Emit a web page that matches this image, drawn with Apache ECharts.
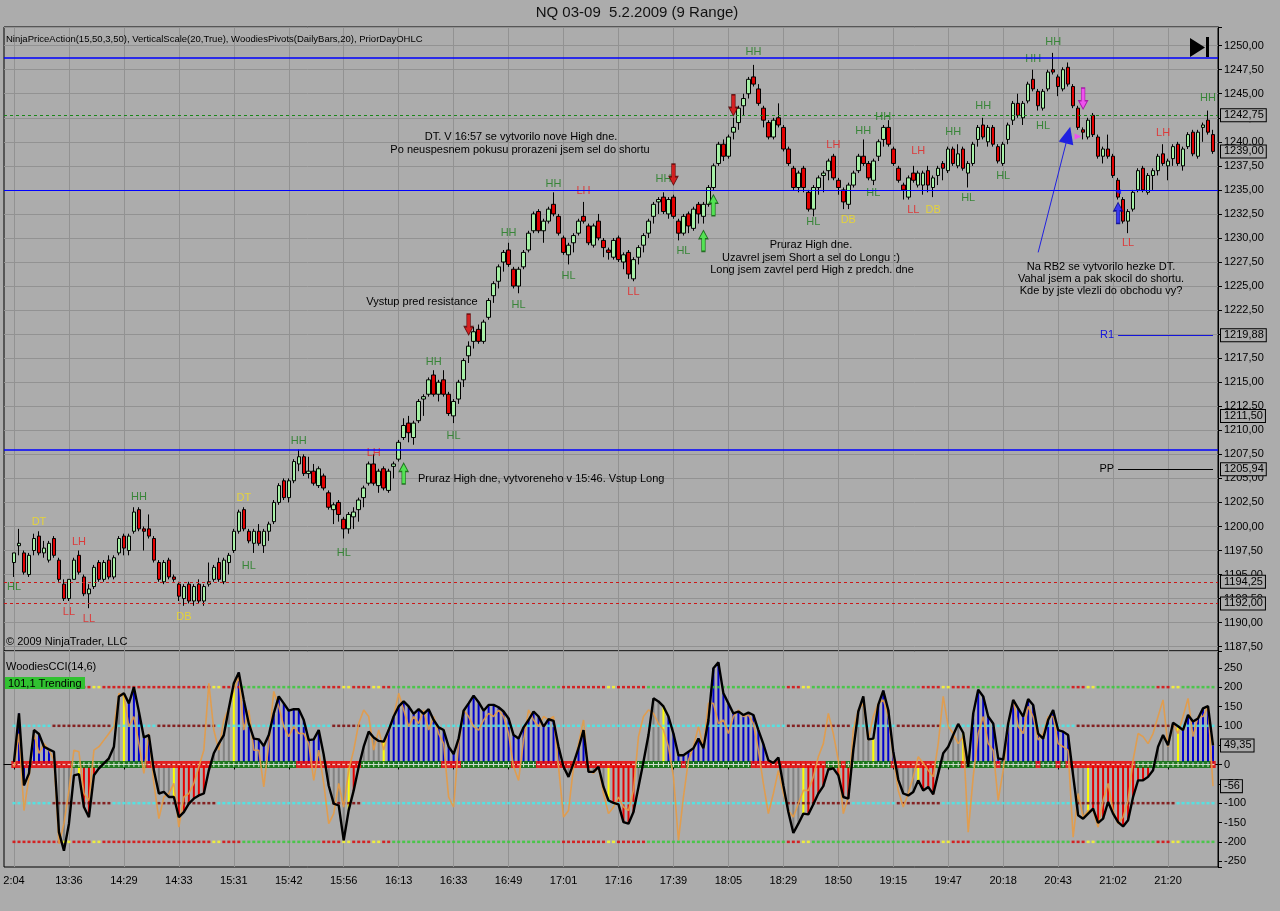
<!DOCTYPE html>
<html><head><meta charset="utf-8">
<script src="https://cdn.jsdelivr.net/npm/echarts@6/dist/echarts.min.js"></script>
<style>html,body{margin:0;padding:0;background:#acacac;}#c{width:1280px;height:911px;}</style>
</head><body><div id="c"></div>
<script>
// ---------- DATA ----------
const tickLabels = ['2:04','13:36','14:29','14:33','15:31','15:42','15:56','16:13','16:33','16:49','17:01','17:16','17:39','18:05','18:29','18:50','19:15','19:47','20:18','20:43','21:02','21:20'];

const opens = [1196.25,1198,1197.25,1195,1197.5,1199,1197.25,1196.5,1198.75,1196.5,
1194,1192.5,1194.5,1197,1194.75,1193,1193.75,1196.25,1194.5,1196.5,
1194.75,1197.25,1199,1197.5,1199.5,1201.75,1199.75,1199.75,1198.75,1196.25,
1194.25,1196.5,1194.75,1194,1192.5,1194,1192.25,1194,1192.25,1194,
1194.5,1196.25,1194.25,1196.25,1197.5,1199.5,1201.75,1199.5,1198.25,1199.5,
1198,1199.5,1200.5,1202.5,1204.75,1203,1204.75,1206.5,1207.25,1205.5,
1205.75,1204.25,1205.25,1203.5,1201.75,1202.5,1200.75,1199.75,1201,1201.75,
1203,1204.5,1206.5,1204.25,1206,1203.75,1206.25,1207,1209.25,1210.75,
1209.25,1211,1213.25,1213.75,1215.75,1213.75,1215.25,1213.75,1211.5,1213.25,
1215.25,1217.75,1219.25,1220.5,1219.25,1221.75,1224,1225.5,1227.5,1228.75,
1226.75,1225,1227,1228.75,1230.75,1232.75,1230.75,1231.75,1233.5,1232.25,
1230,1228.25,1229.5,1230.5,1232.25,1231.25,1229.25,1231.75,1229.75,1228.75,
1228,1230,1227.5,1228.5,1225.75,1228,1229.25,1230.5,1232.25,1233.75,
1234.25,1232.5,1234.25,1231.75,1230.5,1232.5,1231,1233.5,1232.25,1233.5,
1235.25,1237.75,1239.75,1238.5,1241,1242,1243.75,1245,1246.75,1245.5,
1243.5,1242,1240.5,1242.5,1241.5,1239.25,1237.25,1235.25,1237.25,1234.75,
1233,1235.25,1236.5,1237,1238.5,1236,1235,1233.5,1235.5,1237,
1238.5,1237.75,1236,1238.5,1240.25,1241.5,1239.25,1237.25,1235.5,1234.25,
1236.75,1235.5,1235.5,1237,1235.25,1236.5,1237.75,1237,1239.25,1237.5,
1239.25,1236.75,1237.75,1240.25,1241.75,1240,1241.5,1239.5,1237.75,1240.25,
1242.25,1244,1242.5,1244.25,1246.5,1245.25,1243.5,1245.5,1247.5,1246.75,
1245.5,1247.75,1245.75,1243.5,1241.25,1240.5,1242.75,1240.5,1238.5,1239.25,
1238.5,1236,1234,1231.75,1233,1235,1237.25,1234.75,1236.5,1237,
1238.75,1237.5,1238.25,1239.75,1237.5,1239.5,1241,1238.5,1241.5,1242.25,
1240.75];

const closes = [1197.25,1198.25,1195.25,1197,1198.75,1197.25,1197.75,1198.25,1197,1194.5,
1192.5,1194.5,1196.5,1195.25,1193,1193.5,1195.75,1194.5,1196.25,1194.75,
1196.75,1198.75,1197.75,1199,1201.5,1199.75,1199.5,1199,1196.5,1194.5,
1196.25,1194.75,1194.5,1192.75,1193.75,1192.25,1193.75,1192.25,1193.75,1194.25,
1195.75,1194.5,1196.5,1197,1199.5,1201.5,1199.75,1198.5,1199.5,1198.25,
1199.5,1200.25,1202.5,1204.25,1203,1204.75,1206.75,1207.25,1205.5,1205.75,
1204.5,1206,1204,1202,1202.25,1201.25,1199.75,1201.25,1201.5,1202.75,
1204,1206.5,1204.5,1205.75,1204,1205.75,1206.5,1208.75,1210.5,1209.75,
1210.75,1213,1213.5,1215.25,1213.75,1215,1213.75,1211.75,1213,1215,
1217.25,1218.75,1220.25,1219.25,1221.25,1223.5,1225.25,1227,1228.5,1227.25,
1225,1226.75,1228.5,1230.5,1232.5,1230.75,1231.75,1233,1232.5,1230.5,
1228.5,1229.25,1230.25,1231.75,1231.75,1229.5,1231.25,1230,1229,1228.5,
1229.75,1227.75,1228.25,1226.25,1227.75,1229,1230.25,1231.75,1233.5,1234,
1232.75,1234,1232.25,1230.5,1232.25,1231.25,1233,1232.5,1233.5,1235.25,
1237.5,1239.75,1238.5,1240.5,1241.5,1243.5,1244.5,1246.5,1246,1244,
1242.25,1240.5,1242.25,1241.75,1239.25,1237.75,1235.25,1236.75,1235.25,1233,
1235.25,1236.25,1236.75,1238,1236.25,1235.25,1233.75,1235.5,1236.75,1238.5,
1237.75,1236.25,1238,1240,1241.5,1239.75,1237.75,1236,1235,1236.25,
1236,1236.75,1236.75,1235.5,1236.25,1237.25,1237.25,1239.25,1237.75,1238.75,
1237.25,1237.75,1239.75,1241.5,1240.5,1241.5,1239.75,1238,1239.75,1241.75,
1244,1242.75,1244,1246,1245.5,1243.75,1245.25,1247.25,1247.25,1245.75,
1247.5,1246,1243.75,1241.5,1241,1242.25,1240.75,1238.5,1239.25,1238.5,
1236.5,1234.25,1231.75,1232.75,1234.75,1237,1235,1236.5,1237,1238.5,
1237.75,1238,1239.5,1237.75,1239.25,1240.75,1238.75,1241,1241.75,1241,
1239];

const highs = [1197.25,1199.75,1197.5,1197.25,1199.25,1199.5,1198.5,1198.5,1199,1196.75,
1194.5,1194.5,1196.75,1197.5,1195,1194,1196,1196.5,1196.5,1197,
1197,1199,1199.25,1199.25,1202,1202,1200,1201.25,1199,1196.5,
1196.5,1196.75,1195,1194.25,1194,1194.25,1194,1194.5,1194,1196.25,
1196,1196.75,1196.75,1197.25,1199.75,1201.75,1202,1199.75,1199.75,1200.25,
1199.75,1200.5,1202.75,1204.5,1205,1205,1207,1208,1207.5,1207.25,
1206.5,1206.25,1205.5,1203.75,1202.5,1202.75,1201,1201.5,1202,1203,
1204.25,1206.75,1207.5,1206,1206.25,1206,1206.75,1209,1211.25,1211.5,
1211,1213.25,1213.75,1215.5,1216.25,1215.25,1216.25,1214,1213.25,1215.25,
1217.5,1219.25,1220.75,1221,1221.5,1223.75,1225.5,1227.25,1228.75,1229.5,
1227,1227,1228.75,1230.75,1232.75,1233,1232,1233.25,1234.75,1232.5,
1230.25,1229.5,1230.5,1232,1233.75,1231.5,1231.5,1232.5,1230,1229,
1230,1230.25,1228.5,1228.75,1228,1229.25,1230.5,1232,1233.75,1234.25,
1234.75,1234.25,1234.5,1232,1232.5,1232.75,1233.25,1233.75,1233.75,1235.5,
1237.75,1240,1240.25,1240.75,1242.5,1243.75,1245,1246.75,1248,1246,
1243.75,1242.25,1242.5,1244,1241.75,1239.5,1237.5,1237,1237.5,1235,
1235.5,1236.5,1237,1238.25,1238.75,1236.25,1235.25,1235.75,1237,1238.75,
1240.25,1238,1238.25,1240.25,1241.75,1242.25,1239.5,1237.5,1235.75,1236.5,
1237.5,1237,1237,1237.5,1236.5,1237.5,1238,1239.5,1239.5,1239.75,
1239.5,1238,1240,1241.75,1242.5,1241.75,1241.75,1239.75,1240,1242,
1244.25,1245,1244.25,1246.25,1247.5,1245.5,1245.5,1247.5,1249.25,1247,
1247.75,1248.25,1246,1243.75,1241.5,1242.5,1243,1240.75,1239.5,1240.75,
1238.75,1236.25,1234.25,1233,1235,1237.25,1237.5,1236.75,1237.25,1238.75,
1239.75,1238.25,1239.75,1240,1239.5,1241,1241.25,1241.25,1242,1243.25,
1241.25];

const lows = [1194.75,1197,1195,1194.75,1197,1197,1196.75,1196.25,1196.75,1194.25,
1192.25,1192.25,1194.5,1195,1192.75,1191.5,1193.5,1194.25,1194.25,1194.5,
1194.5,1197,1197,1197,1199.25,1199.5,1197.5,1198.75,1196.25,1194.25,
1194,1194.5,1194.25,1192.25,1191.75,1192,1191.75,1192,1191.75,1193.75,
1194.25,1194.25,1194,1195,1197.25,1199.25,1199.5,1198.25,1197.25,1198,
1197.25,1198.5,1200.25,1202.25,1202.75,1202.5,1204.5,1205.75,1205.25,1205,
1204.25,1204,1203.75,1201.75,1200.25,1200.5,1198.75,1199.25,1199.75,1200.5,
1202,1204.25,1204.25,1203.5,1203.75,1203.5,1205,1206.75,1209,1208.75,
1208.5,1210.75,1211.5,1213.5,1213.5,1213,1213.5,1211.5,1210.75,1212.75,
1214.5,1217,1218.5,1219,1219,1221.5,1223.25,1224.75,1226.5,1227,
1224.75,1224.25,1226.75,1228.5,1230.5,1230.5,1229.5,1231.5,1232.25,1230.25,
1228.25,1227.25,1228.5,1230.25,1231.5,1229.25,1229,1229.75,1228,1227.75,
1227.75,1227.5,1226.75,1225.75,1225.5,1227.25,1228.5,1230,1231.5,1232.5,
1232.5,1232,1232,1229.75,1230.25,1230.5,1230.75,1231.5,1231.5,1233.25,
1235,1237.5,1238,1238.25,1240.25,1241.25,1242.75,1244.5,1245.75,1243.75,
1241.5,1240.25,1240.25,1241.5,1239,1237.5,1235,1234.75,1234.75,1232.75,
1232.25,1234.5,1234.75,1236,1236,1234.5,1233,1233,1235.25,1236.75,
1237.5,1236,1235.5,1238,1239.5,1239.5,1237.5,1235.75,1234,1234,
1235.75,1235.25,1234.5,1234.75,1234.25,1235.5,1236,1236.75,1237.5,1237.25,
1237,1235.25,1237.5,1239.5,1240.25,1239.5,1239.5,1237.75,1237.5,1239.75,
1241.75,1242.5,1241.75,1244,1245.25,1243.25,1243.25,1245.25,1247,1244.75,
1245.25,1245.75,1243.5,1241.25,1240.25,1240.25,1240.5,1238.25,1237.75,1238.25,
1236.25,1234,1231.5,1230.5,1232.75,1234.75,1234.75,1234.5,1235,1236.5,
1237.5,1236,1237.5,1237.5,1237,1239.25,1238.5,1238.25,1240,1240.75,
1238.75];

const cciValues = [7,132,-54,-23,89,79,46,39,33,-175,
-223,-153,-28,-25,-110,-136,-28,-10,3,16,
46,176,184,158,200,137,70,76,-15,-75,
-71,-84,-84,-136,-123,-101,-88,-80,-75,-15,
29,54,76,145,210,238,167,106,67,65,
48,76,132,176,158,139,143,143,115,63,
65,89,25,-55,-101,-106,-196,-118,-67,-6,
46,85,70,61,59,89,124,150,163,150,
131,143,131,143,115,96,89,46,27,67,
139,158,178,161,139,154,154,148,137,119,
76,67,96,115,137,124,98,117,113,46,
-6,-32,3,42,89,-19,-19,-6,-58,-93,
-99,-103,-149,-153,-123,-58,7,76,171,163,
150,124,80,24,24,33,42,67,42,115,
249,264,184,158,132,137,128,134,128,89,
53,11,4,18,-54,-123,-177,-153,-127,-129,
-103,-75,-56,-13,-10,-28,-84,-88,37,137,
176,65,67,154,191,141,33,-39,-75,-80,
-71,-41,-67,-58,-77,-23,29,46,76,105,
82,-6,132,193,176,124,106,16,13,106,
167,145,124,169,154,80,67,115,141,89,
85,76,-28,-131,-140,-127,-114,-151,-140,-97,
-127,-149,-160,-144,-84,-41,-41,-32,-15,46,
76,50,108,99,89,128,111,119,145,151,
49.35];

const turboValues = [-6,80,-119,-32,80,29,54,37,11,-205,
-153,-67,37,33,-75,-93,37,46,63,80,
98,184,176,98,124,54,-23,80,-49,-140,
-84,-75,-49,-162,-84,-75,-49,-6,37,210,
89,37,115,145,193,227,89,141,37,37,
-58,54,189,150,98,72,98,80,80,54,
-41,37,-49,-153,-127,-49,-110,-15,37,106,
141,124,37,89,37,89,124,184,141,98,
124,106,141,89,124,80,54,-84,-110,54,
141,124,98,89,115,132,124,141,124,80,
-6,-41,63,141,115,98,124,115,124,-6,
-136,-119,-6,54,115,-15,-23,-6,-75,-127,
-110,-84,-110,-119,-67,72,124,141,132,106,
89,46,-32,-196,-84,11,46,98,46,158,
158,106,115,80,124,141,124,128,106,37,
-49,-127,-75,-15,-75,-119,-136,-101,-67,-67,
-32,20,54,132,80,11,-127,-84,89,141,
158,63,124,158,167,124,20,-67,-110,-75,
-32,20,3,-15,-32,54,176,98,80,54,
72,-175,-32,80,124,54,37,-93,-15,98,
167,98,80,150,124,63,80,124,124,54,
46,37,-188,-75,-136,-119,-119,-162,-93,-49,
-119,-153,-136,-93,11,80,72,54,80,124,
167,46,106,80,124,171,72,124,124,150,
-56];

// histogram state runs [fromBar, state]: b=trend up, r=trend down, g=neutral, y=trigger
const histRuns = [[0,'b'],[9,'g'],[13,'y'],[14,'r'],[18,'g'],[22,'y'],[23,'b'],[28,'g'],[32,'y'],[33,'r'],[39,'g'],[44,'y'],[45,'b'],[62,'g'],[67,'y'],[68,'r'],[70,'g'],[74,'y'],[75,'b'],[110,'g'],[112,'b'],[115,'g'],[119,'y'],[120,'r'],[125,'g'],[130,'y'],[131,'b'],[151,'g'],[158,'y'],[159,'r'],[168,'g'],[172,'y'],[173,'b'],[177,'g'],[181,'y'],[182,'r'],[185,'g'],[190,'y'],[191,'g'],[192,'b'],[212,'g'],[215,'y'],[216,'r'],[228,'g'],[233,'y'],[234,'b']];
// zero line state runs: r = choppy, g = trending
const bandRuns = [[0,'r'],[12,'g'],[27,'r'],[40,'g'],[57,'r'],[70,'g'],[86,'r'],[90,'g'],[100,'r'],[102,'g'],[105,'r'],[125,'g'],[134,'r'],[135,'g'],[148,'r'],[163,'g'],[166,'r'],[167,'g'],[176,'r'],[185,'g'],[190,'r'],[191,'g'],[197,'r'],[198,'g'],[205,'r'],[206,'g'],[209,'r'],[210,'g'],[211,'r'],[225,'g'],[240,'r']];
const level100Runs = [[0,'c'],[8,'b'],[20,'c'],[29,'b'],[41,'c'],[64,'b'],[70,'c'],[155,'b'],[168,'c'],[177,'b'],[186,'c'],[213,'b'],[233,'c']];
const level200Runs = [[0,'r'],[10,'y'],[12,'r'],[16,'y'],[18,'r'],[40,'y'],[42,'r'],[46,'g'],[62,'r'],[66,'y'],[68,'r'],[72,'y'],[74,'r'],[76,'g'],[110,'r'],[119,'y'],[121,'r'],[127,'g'],[155,'r'],[158,'y'],[160,'g'],[182,'r'],[186,'y'],[188,'r'],[192,'g'],[212,'r'],[215,'y'],[217,'g'],[229,'r'],[232,'y'],[234,'g']];

// swing labels [bar, text, price]
const swingLabels = [[0,'HL',1193.7],[5,'DT',1200.5],[13,'LH',1198.4],[25,'HH',1203.1],[11,'LL',1191.1],[15,'LL',1190.4],[34,'DB',1190.6],[46,'DT',1203.0],[47,'HL',1195.9],[57,'HH',1208.9],[66,'HL',1197.2],[72,'LH',1207.6],[84,'HH',1217.1],[88,'HL',1209.4],[99,'HH',1230.5],[101,'HL',1223.0],[108,'HH',1235.6],[114,'LH',1234.9],[111,'HL',1226.0],[124,'LL',1224.4],[130,'HH',1236.1],[134,'HL',1228.6],[148,'HH',1249.3],[160,'HL',1231.7],[164,'LH',1239.7],[167,'DB',1231.9],[170,'HH',1241.1],[172,'HL',1234.7],[174,'HH',1242.6],[181,'LH',1239.1],[180,'LL',1232.9],[184,'DB',1232.9],[188,'HH',1241.0],[191,'HL',1234.2],[194,'HH',1243.7],[198,'HL',1236.5],[204,'HH',1248.6],[208,'HH',1250.4],[206,'HL',1241.7],[230,'LH',1240.9],[223,'LL',1229.5],[239,'HH',1244.6]];
// trade arrows [bar, price, direction, kind]
const arrows = [[78,1205.5,'up','g'],[91,1221.0,'down','r'],[132,1236.6,'down','r'],[138,1229.7,'up','g'],[140,1233.4,'up','g'],[144,1243.8,'down','r'],[214,1244.5,'down','m'],[221,1232.6,'up','b']];
const levels = {r2: 1248.75, prevHigh: 1235.0, prevLow: 1208.0, open: 1242.75, last: 1239.0, r1: 1219.88, mid: 1211.5, pp: 1205.94, s1: 1194.25, s2: 1192.0};
const cciMarkers = {cci: 49.35, turbo: -56};

// ---------- BUILD ----------
const FF = '"Liberation Sans", Arial, sans-serif';
const PAD = 2;
const N = closes.length;
const NC = N + PAD + 1;
const cats = Array.from({length: NC}, (_, j) => String(j));
const isTick = j => j >= PAD && (j - PAD) % 11 === 0 && (j - PAD) / 11 < tickLabels.length;
function expand(runs) {
  const out = []; let k = 0;
  for (let i = 0; i < N; i++) { while (k + 1 < runs.length && runs[k + 1][0] <= i) k++; out.push(runs[k][1]); }
  return out;
}
const hist = expand(histRuns), band = expand(bandRuns), l100 = expand(level100Runs), l200 = expand(level200Runs);
const HC = {b:'#0000d0', r:'#e60000', g:'#828282', y:'#ffff00'};
const BC = {r:'#ee0000', g:'#006e00'};
const C100 = {c:'#3ff0f0', b:'#7a0000'};
const C200 = {g:'#33cc33', r:'#dd0000', y:'#ffff20'};
const LBLC = {HH:'#1c7c1c', HL:'#1c7c1c', LH:'#e62020', LL:'#e62020', DT:'#f2dc1e', DB:'#f2dc1e'};
const ARC = {g:['#3ef03e','#0a5a0a'], r:['#e00000','#500000'], m:['#ff3cff','#a000a0'], b:['#1e1eff','#00008a']};
const PLUS = 'path://M2,0H3V2H5V3H3V5H2V3H0V2H2Z';
const ARROW = 'path://M5,0L10,8L7,8L7,20L3,20L3,8L0,8Z';

const byBar = f => cats.map((_, j) => { const i = j - PAD; return (i >= 0 && i < N) ? f(i) : '-'; });
const candleData = byBar(i => [opens[i], closes[i], lows[i], highs[i]]);
const histData = byBar(i => ({value: cciValues[i], itemStyle: {color: HC[hist[i]]}}));
const cciData = byBar(i => cciValues[i]);
const turboData = byBar(i => turboValues[i]);
const bandData = [], bandMarks = [], dotData = [];
for (let i = 0; i < N; i++) {
  const j = i + PAD;
  bandData.push({value: [j, 0], itemStyle: {color: BC[band[i]]}});
  bandMarks.push(band[i] === 'g' ? {value: [j, 0], symbol: PLUS, symbolSize: [5, 5]} : {value: [j, 0], symbol: 'rect', symbolSize: [3, 1.3]});
  [100, -100].forEach(v => dotData.push({value: [j, v], itemStyle: {color: C100[l100[i]]}}));
  [200, -200].forEach(v => dotData.push({value: [j, v], itemStyle: {color: C200[l200[i]]}}));
}
const labelData = swingLabels.map(([b, t, p]) => ({value: [b + PAD, p], name: t, label: {color: LBLC[t]}}));
const arrowData = arrows.map(([b, p, d, k]) => ({value: [b + PAD, p], symbolRotate: d === 'down' ? 180 : 0, itemStyle: {color: ARC[k][0], borderColor: ARC[k][1]}}));
const tinyTri = [
  {value: [213 + PAD, 1240.55], symbol: 'triangle', symbolRotate: -90, symbolSize: [6, 7], itemStyle: {color: '#ff3cff'}},
  {value: [221 + PAD, 1234.8], symbol: 'triangle', symbolRotate: 90, symbolSize: [5, 6], itemStyle: {color: '#1e1eff'}}
];

const fmt2 = v => v.toFixed(2).replace('.', ',');
const boxLabel = txt => ({show: true, position: 'end', formatter: txt, color: '#000', fontSize: 11, fontFamily: FF,
  backgroundColor: '#acacac', borderColor: '#000', borderWidth: 1, padding: [1, 2, 0, 3], distance: 3});
const hidden = {color: 'rgba(0,0,0,0)', width: 1};
const solid = (c, w) => ({color: c, type: 'solid', width: w || 1});

const priceLines = [
  {yAxis: levels.r2, lineStyle: solid('#0000ff', 1.5), label: {show: false}},
  {yAxis: levels.prevHigh, lineStyle: solid('#0000ff', 1.2), label: {show: false}},
  {yAxis: levels.prevLow, lineStyle: solid('#0000ff', 1.5), label: {show: false}},
  {yAxis: levels.open, lineStyle: {color: '#1a861a', type: [3, 3], width: 1.2}, label: boxLabel(fmt2(levels.open))},
  {yAxis: levels.s1, lineStyle: {color: '#cc1818', type: [3, 3], width: 1}, label: boxLabel(fmt2(levels.s1))},
  {yAxis: levels.s2, lineStyle: {color: '#cc1818', type: [3, 3], width: 1}, label: boxLabel(fmt2(levels.s2))},
  {yAxis: levels.last, lineStyle: hidden, label: boxLabel(fmt2(levels.last))},
  {yAxis: levels.mid, lineStyle: hidden, label: boxLabel(fmt2(levels.mid))},
  {yAxis: levels.r1, lineStyle: hidden, label: boxLabel(fmt2(levels.r1))},
  {yAxis: levels.pp, lineStyle: hidden, label: boxLabel(fmt2(levels.pp))},
  [{coord: [String(221 + PAD), levels.r1], lineStyle: solid('#1414dc'), label: {show: true, position: 'start', formatter: 'R1', color: '#1414dc', fontSize: 11, fontFamily: FF, distance: 4}}, {coord: [String(240 + PAD), levels.r1]}],
  [{coord: [String(221 + PAD), levels.pp], lineStyle: solid('#000'), label: {show: true, position: 'start', formatter: 'PP', color: '#000', fontSize: 11, fontFamily: FF, distance: 4}}, {coord: [String(240 + PAD), levels.pp]}],
  [{coord: [String(205 + PAD), 1228.5], symbol: 'none', lineStyle: solid('#2020e0'), label: {show: false}}, {coord: [String(211 + PAD), 1240.7], symbol: 'triangle', symbolSize: [15, 17]}]
];

const notes = [
  ['DT. V 16:57 se vytvorilo nove High dne.', 521, 137, 'center', 11],
  ['Po neuspesnem pokusu prorazeni jsem sel do shortu', 520, 150, 'center', 11],
  ['Vystup pred resistance', 422, 302, 'center', 11],
  ['Pruraz High dne, vytvoreneho v 15:46. Vstup Long', 418, 479, 'left', 11],
  ['Pruraz High dne.', 811, 245, 'center', 11],
  ['Uzavrel jsem Short a sel do Longu :)', 811, 258, 'center', 11],
  ['Long jsem zavrel perd High z predch. dne', 812, 270, 'center', 11],
  ['Na RB2 se vytvorilo hezke DT.', 1101, 267, 'center', 11],
  ['Vahal jsem a pak skocil do shortu.', 1101, 279, 'center', 11],
  ['Kde by jste vlezli do obchodu vy?', 1101, 291, 'center', 11],
  ['NinjaPriceAction(15,50,3,50), VerticalScale(20,True), WoodiesPivots(DailyBars,20), PriorDayOHLC', 6, 39, 'left', 9.5],
  ['\u00a9 2009 NinjaTrader, LLC', 6, 642, 'left', 11],
  ['WoodiesCCI(14,6)', 6, 667, 'left', 11]
];
const graphic = notes.map(([t, x, y, a, s]) => ({type: 'text', x, y, z: 50, silent: true,
  style: {text: t, fill: '#000', font: s + 'px ' + FF, align: a, verticalAlign: 'middle'}}));
graphic.push({type: 'text', x: 637, y: 13, z: 50, style: {text: 'NQ 03-09  5.2.2009 (9 Range)', fill: '#111', font: '15px ' + FF, align: 'center', verticalAlign: 'middle'}});
graphic.push({type: 'rect', z: 49, shape: {x: 5, y: 677, width: 80, height: 12}, style: {fill: '#31c231'}});
graphic.push({type: 'text', x: 8, y: 683.5, z: 50, style: {text: '101,1 Trending', fill: '#000', font: '11px ' + FF, align: 'left', verticalAlign: 'middle'}});
graphic.push({type: 'polygon', z: 50, shape: {points: [[1190, 38], [1190, 57], [1205, 47.5]]}, style: {fill: '#000'}});
graphic.push({type: 'rect', z: 50, shape: {x: 1206, y: 37, width: 3, height: 20}, style: {fill: '#000'}});

const splitV = {show: true, interval: j => isTick(j), lineStyle: {color: '#929292', width: 1}};
const chart = echarts.init(document.getElementById('c'), null, {renderer: 'canvas'});
chart.setOption({
  animation: false,
  backgroundColor: '#acacac',
  textStyle: {fontFamily: FF},
  grid: [
    {left: 4, right: 62, top: 27, height: 624, show: true, borderColor: '#000', borderWidth: 1, backgroundColor: 'transparent', outerBoundsMode: 'none'},
    {left: 4, right: 62, top: 651, height: 216, show: true, borderColor: '#000', borderWidth: 1, backgroundColor: 'transparent', outerBoundsMode: 'none'}
  ],
  xAxis: [
    {gridIndex: 0, type: 'category', data: cats, boundaryGap: false, axisLine: {show: false}, axisTick: {show: false}, axisLabel: {show: false}, splitLine: splitV},
    {gridIndex: 1, type: 'category', data: cats, boundaryGap: false,
      axisLine: {show: true, lineStyle: {color: '#000'}},
      axisTick: {show: true, interval: j => isTick(j), length: 5, lineStyle: {color: '#000'}},
      axisLabel: {show: true, interval: j => isTick(j), formatter: (v) => tickLabels[(+v - PAD) / 11] || '', color: '#000', fontSize: 11, fontFamily: FF, margin: 8},
      splitLine: splitV}
  ],
  yAxis: [
    {gridIndex: 0, type: 'value', position: 'right', min: 1187.05, max: 1251.94, minInterval: 2.5, maxInterval: 2.5, splitNumber: 26,
      axisLine: {show: true, lineStyle: {color: '#000'}}, axisTick: {show: true, length: 4, lineStyle: {color: '#000'}},
      axisLabel: {color: '#000', fontSize: 11, fontFamily: FF, margin: 6, formatter: v => Math.abs(v / 2.5 - Math.round(v / 2.5)) < 1e-6 ? fmt2(v) : ''},
      splitLine: {show: true, lineStyle: {color: '#929292', width: 1}}},
    {gridIndex: 1, type: 'value', position: 'right', min: -265, max: 293.4, minInterval: 50, maxInterval: 50, splitNumber: 11,
      axisLine: {show: true, lineStyle: {color: '#000'}}, axisTick: {show: true, length: 4, lineStyle: {color: '#000'}},
      axisLabel: {color: '#000', fontSize: 11, fontFamily: FF, margin: 6, formatter: v => Math.abs(v / 50 - Math.round(v / 50)) < 1e-6 ? String(Math.round(v)) : ''},
      splitLine: {show: false}}
  ],
  series: [
    {type: 'candlestick', xAxisIndex: 0, yAxisIndex: 0, data: candleData, barWidth: 4, z: 3,
      itemStyle: {color: '#a6f0a6', color0: '#e20000', borderColor: '#000', borderColor0: '#000', borderWidth: 1},
      markLine: {silent: true, symbol: ['none', 'none'], animation: false, z: 20, data: priceLines}},
    {type: 'scatter', xAxisIndex: 0, yAxisIndex: 0, data: labelData, symbolSize: 1, itemStyle: {color: 'rgba(0,0,0,0)'}, z: 6, silent: true,
      label: {show: true, position: 'inside', formatter: '{b}', fontSize: 11, fontFamily: FF}},
    {type: 'scatter', xAxisIndex: 0, yAxisIndex: 0, data: arrowData, symbol: ARROW, symbolSize: [9, 21], z: 7, silent: true,
      itemStyle: {borderWidth: 1}},
    {type: 'scatter', xAxisIndex: 0, yAxisIndex: 0, data: tinyTri, z: 7, silent: true},
    {type: 'bar', xAxisIndex: 1, yAxisIndex: 1, data: histData, barWidth: 2, z: 2, silent: true},
    {type: 'scatter', xAxisIndex: 1, yAxisIndex: 1, data: bandData, symbol: 'rect', symbolSize: [5.4, 7], z: 3, silent: true},
    {type: 'scatter', xAxisIndex: 1, yAxisIndex: 1, data: bandMarks, itemStyle: {color: '#fff'}, z: 4, silent: true},
    {type: 'scatter', xAxisIndex: 1, yAxisIndex: 1, data: dotData, symbol: 'rect', symbolSize: [3, 2.5], z: 3, silent: true},
    {type: 'line', xAxisIndex: 1, yAxisIndex: 1, data: turboData, symbol: 'none', z: 5, silent: true,
      lineStyle: {color: '#e59b45', width: 1.6, opacity: 0.9},
      markLine: {silent: true, symbol: ['none', 'none'], z: 20, data: [{yAxis: cciMarkers.turbo, lineStyle: hidden, label: boxLabel(String(cciMarkers.turbo))}]}},
    {type: 'line', xAxisIndex: 1, yAxisIndex: 1, data: cciData, symbol: 'none', z: 6, silent: true,
      lineStyle: {color: '#000', width: 2.4},
      markLine: {silent: true, symbol: ['none', 'none'], z: 20, data: [{yAxis: cciMarkers.cci, lineStyle: hidden, label: boxLabel(fmt2(cciMarkers.cci))}]}}
  ],
  graphic: graphic
});
</script></body></html>
